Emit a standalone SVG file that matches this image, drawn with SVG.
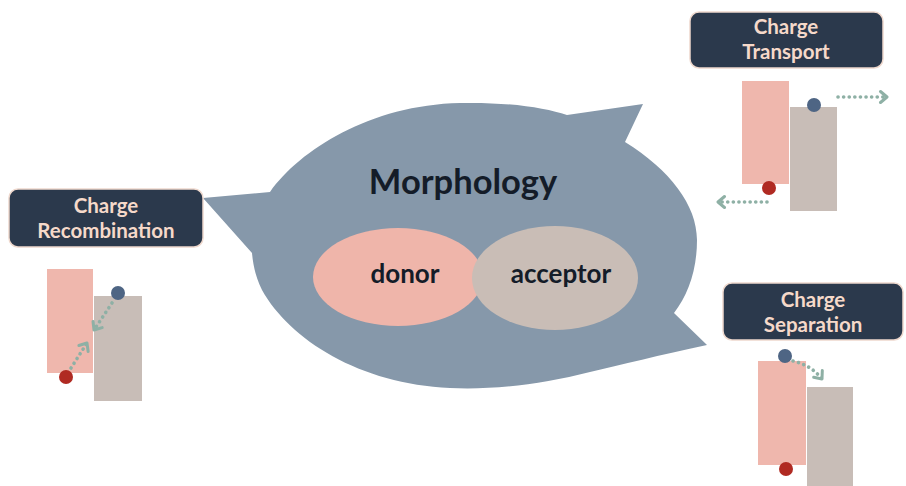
<svg xmlns="http://www.w3.org/2000/svg" width="906" height="486" viewBox="0 0 906 486">
  <style>
    .label { font-family: Lato, "Open Sans", "Liberation Sans", sans-serif; font-weight: 700; text-anchor: middle; }
    .box { fill: #2b394c; stroke: #eed8cd; stroke-width: 1.5; }
    .box-text { fill: #f6d9ca; font-size: 20.5px; }
    .dark-text { fill: #141c28; }
    .pink { fill: #efb7ad; }
    .grey { fill: #c8bdb7; }
    .hole { fill: #4e6584; }
    .electron { fill: #b02a22; }
    .flow { fill: none; stroke: #8eb0a5; stroke-width: 3.6; stroke-linecap: round; stroke-dasharray: 0.1 5.5; marker-end: url(#chev); }
  </style>
  <defs>
    <marker id="chev" viewBox="-10 -8 12 16" refX="0" refY="0" markerWidth="12" markerHeight="16" markerUnits="userSpaceOnUse" orient="auto">
      <path d="M-6.5,-5.5 L0,0 L-6.5,5.5" fill="none" stroke="#8eb0a5" stroke-width="3" stroke-linecap="round" stroke-linejoin="round"/>
    </marker>
  </defs>
  <rect width="906" height="486" fill="#ffffff"/>

  <!-- central speech-bubble blob with three pointers -->
  <g id="morphology">
    <path fill="#8698aa" d="M203,198 L270,192 C300,150 370,105 460,103 C510,102 545,108 567,115 L643,104 L625,142 C670,170 697,205 697,240 C697,270 688,295 674,313 L707,345 C660,355 620,365 590,372 C540,385 490,390 450,388 C360,384 290,340 262,290 C256,278 253,265 252,253 Z"/>
    <text class="label dark-text" x="463" y="194" font-size="34.5">Morphology</text>
  </g>
  <g id="donor">
    <ellipse cx="398" cy="277" rx="85" ry="49" fill="#efb5aa"/>
    <text class="label dark-text" x="405" y="283" font-size="26">donor</text>
  </g>
  <g id="acceptor">
    <ellipse cx="555" cy="278" rx="83" ry="52" fill="#c9bdb6"/>
    <text class="label dark-text" x="561" y="283" font-size="26">acceptor</text>
  </g>

  <!-- Charge Recombination -->
  <g id="recombination">
    <rect class="box" x="9" y="189" width="194" height="58" rx="9"/>
    <text class="label box-text" x="106" y="213">Charge</text>
    <text class="label box-text" x="106" y="238">Recombination</text>
    <rect class="pink" x="47" y="269" width="46" height="104"/>
    <rect class="grey" x="94" y="296" width="48" height="105"/>
    <circle class="hole" cx="118" cy="293" r="7"/>
    <circle class="electron" cx="66" cy="377" r="7"/>
  </g>

  <!-- Charge Transport -->
  <g id="transport">
    <rect class="box" x="690" y="12" width="193" height="56" rx="9"/>
    <text class="label box-text" x="786" y="34">Charge</text>
    <text class="label box-text" x="786" y="59">Transport</text>
    <rect class="pink" x="742" y="81" width="47" height="103"/>
    <rect class="grey" x="790" y="107" width="47" height="104"/>
    <circle class="hole" cx="814" cy="105" r="7"/>
    <circle class="electron" cx="769" cy="188" r="7"/>
  </g>

  <!-- Charge Separation -->
  <g id="separation">
    <rect class="box" x="723" y="283" width="180" height="57" rx="9"/>
    <text class="label box-text" x="813" y="307">Charge</text>
    <text class="label box-text" x="813" y="332">Separation</text>
    <rect class="pink" x="758" y="361" width="48" height="104"/>
    <rect class="grey" x="807" y="387" width="46" height="99"/>
    <circle class="hole" cx="785" cy="356" r="7"/>
    <circle class="electron" cx="786" cy="469" r="7"/>
  </g>

  <!-- carrier motion arrows -->
  <g id="connectors">
    <path class="flow" d="M112,303 L94,330"/>
    <path class="flow" d="M71,368 L87,343"/>
    <path class="flow" d="M838,97 L887,97"/>
    <path class="flow" d="M767,202 L718,202"/>
    <path class="flow" d="M793,361 Q811,365 822,379"/>
  </g>
</svg>
